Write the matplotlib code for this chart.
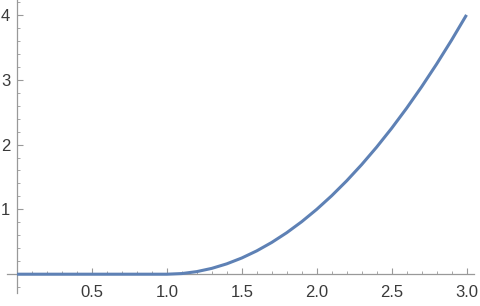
import matplotlib
matplotlib.use("Agg")
import matplotlib.pyplot as plt
from matplotlib.ticker import MultipleLocator, FixedLocator

# values
x_vals = [0.0, 0.2, 0.4, 0.6, 0.8, 1.0, 1.1, 1.2, 1.3, 1.4, 1.5, 1.6, 1.7, 1.8, 1.9,
          2.0, 2.1, 2.2, 2.3, 2.4, 2.5, 2.6, 2.7, 2.8, 2.9, 3.0]
y_vals = [0.0, 0.0, 0.0, 0.0, 0.0, 0.0, 0.01, 0.04, 0.09, 0.16, 0.25, 0.36, 0.49, 0.64, 0.81,
          1.0, 1.21, 1.44, 1.69, 1.96, 2.25, 2.56, 2.89, 3.24, 3.61, 4.0]
x_ticks = [0.5, 1.0, 1.5, 2.0, 2.5, 3.0]
x_labels = ["0.5", "1.0", "1.5", "2.0", "2.5", "3.0"]
y_ticks = [1, 2, 3, 4]
y_labels = ["1", "2", "3", "4"]

plt.rcParams["font.family"] = ["Liberation Sans", "DejaVu Sans"]

W, H = 480, 306
fig = plt.figure(figsize=(4.8, 3.06), dpi=100)
ax = fig.add_axes([7 / W, 13 / H, (474 - 7) / W, (293 - 0) / H])

ax.plot(x_vals, y_vals, color="#5E81B5", lw=2.2, solid_capstyle="butt", clip_on=False, zorder=3)

ax.set_xlim(-0.067, 3.05)
ax.set_ylim(-0.29, 4.23)

for s in ["top", "right"]:
    ax.spines[s].set_visible(False)
ax.spines["left"].set_position(("data", 0))
ax.spines["bottom"].set_position(("data", 0))
for s in ["left", "bottom"]:
    ax.spines[s].set_color("#999999")
    ax.spines[s].set_linewidth(0.9)

ax.xaxis.set_major_locator(FixedLocator(x_ticks))
ax.set_xticklabels(x_labels)
ax.xaxis.set_minor_locator(MultipleLocator(0.1))
ax.yaxis.set_major_locator(FixedLocator(y_ticks))
ax.set_yticklabels(y_labels)
ax.yaxis.set_minor_locator(MultipleLocator(0.2))

ax.tick_params(axis="both", which="major", direction="in", length=4.0, width=0.8,
               color="#999999", labelsize=12, labelcolor="#3a3a3a")
ax.tick_params(axis="both", which="minor", direction="in", length=2.2, width=0.6,
               color="#999999")
ax.tick_params(axis="x", which="major", pad=8)
ax.tick_params(axis="y", which="major", pad=5)

ax.patch.set_alpha(0)
fig.savefig("out.png", dpi=100)
